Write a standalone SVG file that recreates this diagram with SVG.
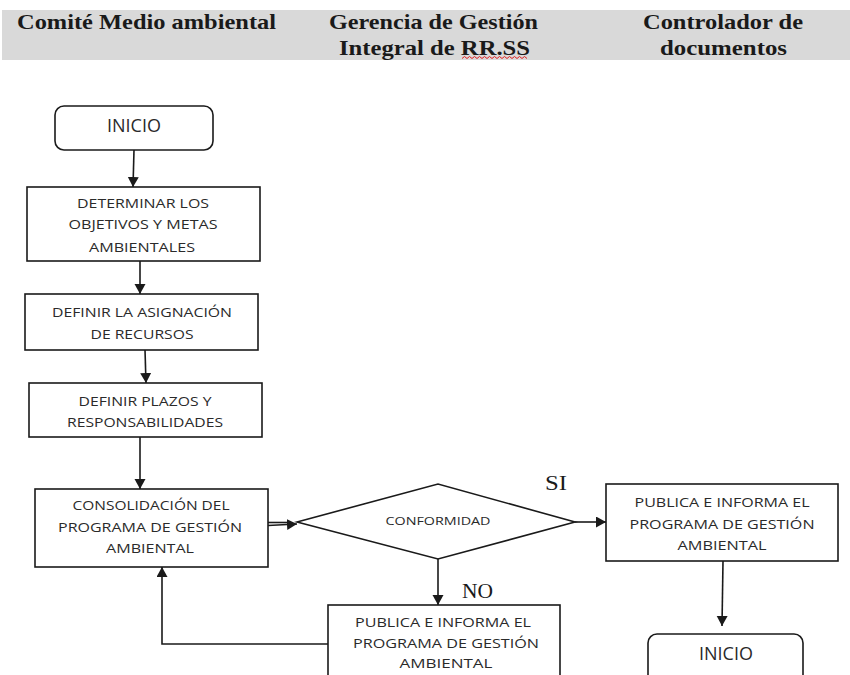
<svg xmlns="http://www.w3.org/2000/svg" width="850" height="675" viewBox="0 0 850 675">
  <style>
    .head { font-family: "Liberation Serif", "Times New Roman", serif; font-weight: bold; font-size: 21px; fill: #1a1a1a; }
    .lbl { font-family: "Liberation Serif", "Times New Roman", serif; font-size: 20px; fill: #1a1a1a; }
    .box { fill: #ffffff; stroke: #1a1a1a; stroke-width: 1.6; }
    .txt { font-family: "Open Sans", "DejaVu Sans", sans-serif; font-size: 13.5px; fill: #2a2a2a; text-anchor: middle; }
    .term { font-family: "Open Sans", "DejaVu Sans", sans-serif; font-size: 18px; fill: #2a2a2a; text-anchor: middle; }
    .conn { fill: none; stroke: #1a1a1a; stroke-width: 1.6; }
  </style>
  <defs>
    <marker id="arrow" markerUnits="userSpaceOnUse" markerWidth="12" markerHeight="12" refX="10" refY="5.5" orient="auto">
      <path d="M0,0 L10,5.5 L0,11 Z" fill="#1a1a1a"/>
    </marker>
  </defs>

  <rect x="0" y="0" width="850" height="675" fill="#ffffff"/>

  <!-- swimlane header band -->
  <g id="header">
    <rect x="2" y="10" width="848" height="50" fill="#d9d9d9"/>
    <text class="head" x="17" y="29" textLength="259" lengthAdjust="spacingAndGlyphs">Comité Medio ambiental</text>
    <text class="head" x="329" y="29" textLength="209" lengthAdjust="spacingAndGlyphs">Gerencia de Gestión</text>
    <text class="head" x="339" y="55" textLength="191" lengthAdjust="spacingAndGlyphs">Integral de RR.SS</text>
    <path d="M462,58.5 l2.5,-2 l2.5,2 l2.5,-2 l2.5,2 l2.5,-2 l2.5,2 l2.5,-2 l2.5,2 l2.5,-2 l2.5,2 l2.5,-2 l2.5,2 l2.5,-2 l2.5,2 l2.5,-2 l2.5,2 l2.5,-2 l2.5,2 l2.5,-2 l2.5,2 l2.5,-2 l2.5,2 l2.5,-2 l2.5,2 l2.5,-2 l2.5,2" fill="none" stroke="#e02020" stroke-width="1"/>
    <text class="head" x="643" y="29" textLength="160" lengthAdjust="spacingAndGlyphs">Controlador de</text>
    <text class="head" x="660" y="55" textLength="127" lengthAdjust="spacingAndGlyphs">documentos</text>
  </g>

  <!-- connectors -->
  <g id="connectors">
    <line class="conn" x1="134" y1="150" x2="133" y2="187" marker-end="url(#arrow)"/>
    <line class="conn" x1="140" y1="261" x2="140" y2="294" marker-end="url(#arrow)"/>
    <line class="conn" x1="145" y1="350" x2="146" y2="383" marker-end="url(#arrow)"/>
    <line class="conn" x1="140" y1="437" x2="140" y2="489" marker-end="url(#arrow)"/>
    <line class="conn" x1="268" y1="522.5" x2="290" y2="522.5"/>
    <line class="conn" x1="268" y1="525.5" x2="297" y2="524" marker-end="url(#arrow)"/>
    <line class="conn" x1="575" y1="522" x2="606" y2="522" marker-end="url(#arrow)"/>
    <line class="conn" x1="438" y1="559" x2="438" y2="605" marker-end="url(#arrow)"/>
    <polyline class="conn" points="328,644 162,644 162,567" marker-end="url(#arrow)"/>
    <line class="conn" x1="723" y1="561" x2="722" y2="626" marker-end="url(#arrow)"/>
    <text class="lbl" x="545" y="490" textLength="22" lengthAdjust="spacingAndGlyphs">SI</text>
    <text class="lbl" x="462" y="598" textLength="31" lengthAdjust="spacingAndGlyphs">NO</text>
  </g>

  <g id="inicio">
    <rect class="box" x="55" y="106" width="158" height="44" rx="9"/>
    <text class="term" x="134" y="132">INICIO</text>
  </g>

  <g id="determinar">
    <rect class="box" x="27" y="187" width="233" height="74"/>
    <text class="txt" x="143" y="208" textLength="132" lengthAdjust="spacingAndGlyphs">DETERMINAR LOS</text>
    <text class="txt" x="143" y="229" textLength="149" lengthAdjust="spacingAndGlyphs">OBJETIVOS Y METAS</text>
    <text class="txt" x="142" y="252" textLength="106" lengthAdjust="spacingAndGlyphs">AMBIENTALES</text>
  </g>

  <g id="asignacion">
    <rect class="box" x="25" y="294" width="233" height="56"/>
    <text class="txt" x="142" y="317" textLength="180" lengthAdjust="spacingAndGlyphs">DEFINIR LA ASIGNACIÓN</text>
    <text class="txt" x="142" y="339" textLength="103" lengthAdjust="spacingAndGlyphs">DE RECURSOS</text>
  </g>

  <g id="plazos">
    <rect class="box" x="29" y="383" width="233" height="54"/>
    <text class="txt" x="145" y="406" textLength="133" lengthAdjust="spacingAndGlyphs">DEFINIR PLAZOS Y</text>
    <text class="txt" x="145" y="427" textLength="156" lengthAdjust="spacingAndGlyphs">RESPONSABILIDADES</text>
  </g>

  <g id="consolidacion">
    <rect class="box" x="35" y="489" width="233" height="78"/>
    <text class="txt" x="151" y="510" textLength="157" lengthAdjust="spacingAndGlyphs">CONSOLIDACIÓN DEL</text>
    <text class="txt" x="150" y="532" textLength="184" lengthAdjust="spacingAndGlyphs">PROGRAMA DE GESTIÓN</text>
    <text class="txt" x="150" y="553" textLength="88" lengthAdjust="spacingAndGlyphs">AMBIENTAL</text>
  </g>

  <g id="conformidad">
    <polygon class="box" points="297,522 438,484 575,522 438,559"/>
    <text class="txt" x="438" y="525" style="font-size:11.5px" textLength="105" lengthAdjust="spacingAndGlyphs">CONFORMIDAD</text>
  </g>

  <g id="publica-si">
    <rect class="box" x="606" y="484" width="232" height="77"/>
    <text class="txt" x="722" y="507" textLength="175" lengthAdjust="spacingAndGlyphs">PUBLICA E INFORMA EL</text>
    <text class="txt" x="722" y="529" textLength="185" lengthAdjust="spacingAndGlyphs">PROGRAMA DE GESTIÓN</text>
    <text class="txt" x="722" y="550" textLength="89" lengthAdjust="spacingAndGlyphs">AMBIENTAL</text>
  </g>

  <g id="publica-no">
    <rect class="box" x="328" y="605" width="232" height="80"/>
    <text class="txt" x="443" y="627" textLength="176" lengthAdjust="spacingAndGlyphs">PUBLICA E INFORMA EL</text>
    <text class="txt" x="446" y="648" textLength="186" lengthAdjust="spacingAndGlyphs">PROGRAMA DE GESTIÓN</text>
    <text class="txt" x="446" y="668" textLength="93" lengthAdjust="spacingAndGlyphs">AMBIENTAL</text>
  </g>

  <g id="inicio-fin">
    <rect class="box" x="648" y="634" width="155" height="60" rx="9"/>
    <text class="term" x="726" y="660">INICIO</text>
  </g>
</svg>
